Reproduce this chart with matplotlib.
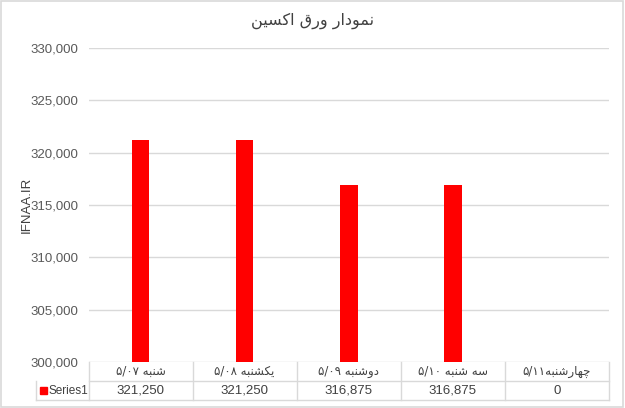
import re
import matplotlib
matplotlib.use("Agg")
import matplotlib.pyplot as plt
import matplotlib.transforms as mtransforms
from matplotlib.patches import Rectangle

# chart data
title = "نمودار ورق اکسین"
categories = ["شنبه ۵/۰۷", "یکشنبه ۵/۰۸", "دوشنبه ۵/۰۹", "سه شنبه ۵/۱۰", "چهارشنبه۵/۱۱"]
values = [321250, 321250, 316875, 316875, 0]
series_name = "Series1"
y_ticks = [300000, 305000, 310000, 315000, 320000, 325000, 330000]
y_label = "IFNAA.IR"

# presentation forms: isolated, final, initial, medial
FORMS = {
    'ا': ('\uFE8D', '\uFE8E', None, None),
    'ب': ('\uFE8F', '\uFE90', '\uFE91', '\uFE92'),
    'د': ('\uFEA9', '\uFEAA', None, None),
    'ر': ('\uFEAD', '\uFEAE', None, None),
    'س': ('\uFEB1', '\uFEB2', '\uFEB3', '\uFEB4'),
    'ش': ('\uFEB5', '\uFEB6', '\uFEB7', '\uFEB8'),
    'ق': ('\uFED5', '\uFED6', '\uFED7', '\uFED8'),
    'م': ('\uFEE1', '\uFEE2', '\uFEE3', '\uFEE4'),
    'ن': ('\uFEE5', '\uFEE6', '\uFEE7', '\uFEE8'),
    'ه': ('\uFEE9', '\uFEEA', '\uFEEB', '\uFEEC'),
    'و': ('\uFEED', '\uFEEE', None, None),
    'ک': ('\uFB8E', '\uFB8F', '\uFB90', '\uFB91'),
    'ی': ('\uFBFC', '\uFBFD', '\uFBFE', '\uFBFF'),
    'چ': ('\uFB7A', '\uFB7B', '\uFB7C', '\uFB7D'),
}


def shape(word):
    out = []
    for i, ch in enumerate(word):
        if ch not in FORMS:
            out.append(ch)
            continue
        prev = word[i - 1] if i > 0 else None
        nxt = word[i + 1] if i + 1 < len(word) else None
        join_prev = prev in FORMS and FORMS[prev][2] is not None
        join_next = FORMS[ch][2] is not None and nxt in FORMS
        iso, fin, ini, med = FORMS[ch]
        if join_prev and join_next:
            out.append(med)
        elif join_prev:
            out.append(fin)
        elif join_next:
            out.append(ini)
        else:
            out.append(iso)
    return "".join(out)


def rtl(text):
    # right-to-left paragraph, number runs kept left-to-right
    vis = shape(text)[::-1]
    return re.sub("[۰-۹0-9/]+", lambda m: m.group(0)[::-1], vis)


plt.rcParams['font.family'] = ['Liberation Sans Narrow', 'Liberation Sans', 'DejaVu Sans']

fig = plt.figure(figsize=(6.25, 4.08), dpi=100)
fig.patches.append(Rectangle((0.002, 0.003), 0.995, 0.994, transform=fig.transFigure,
                             fill=False, edgecolor='#d9d9d9', linewidth=1.2))

ax = fig.add_axes([0.1416, 0.1127, 0.8328, 0.7696])
x = list(range(len(categories)))
ax.bar(x, values, width=0.17, color='#ff0000', zorder=3)
ax.set_xlim(-0.5, len(categories) - 0.5)
ax.set_ylim(y_ticks[0], y_ticks[-1])
ax.set_yticks(y_ticks)
ax.set_yticklabels([f"{v:,}" for v in y_ticks], fontsize=9.5, color='#595959')
ax.tick_params(axis='y', length=0, pad=7.5)
ax.set_xticks([])
ax.grid(axis='y', color='#d9d9d9', linewidth=1)
for s in ax.spines.values():
    s.set_visible(False)
ax.set_ylabel(y_label, fontsize=9.5, color='#404040')
ax.yaxis.set_label_coords(-0.108, 0.5)

fig.text(0.5, 0.948, rtl(title), ha='center', va='center', fontsize=11.5,
         color='#404040', family=['DejaVu Sans'])

# data table under the axis
row_h = 19 / 314.0
trans = mtransforms.blended_transform_factory(ax.transData, ax.transAxes)
line_kw = dict(color='#d9d9d9', linewidth=1, clip_on=False)
left_x = -0.5 - 52.5 / 104.2
ax.plot([-0.5, len(categories) - 0.5], [-row_h, -row_h], transform=trans, **line_kw)
ax.plot([left_x, len(categories) - 0.5], [-2 * row_h, -2 * row_h], transform=trans, **line_kw)
ax.plot([left_x, left_x], [-row_h, -2 * row_h], transform=trans, **line_kw)
for i in range(len(categories) + 1):
    ax.plot([i - 0.5, i - 0.5], [0, -2 * row_h], transform=trans, **line_kw)

for i, (c, v) in enumerate(zip(categories, values)):
    ax.text(i, -0.5 * row_h, rtl(c), transform=trans, ha='center', va='center',
            fontsize=8.5, color='#404040', family=['DejaVu Sans'])
    ax.text(i, -1.5 * row_h, f"{v:,}", transform=trans, ha='center', va='center',
            fontsize=9.5, color='#404040')

ax.add_patch(Rectangle((left_x + 0.04, -1.5 * row_h - 0.01), 0.062, 0.021, transform=trans,
                       color='#ff0000', clip_on=False))
ax.text(left_x + 0.115, -1.5 * row_h, series_name, transform=trans, ha='left', va='center',
        fontsize=8.5, color='#404040')

fig.savefig("out.png", dpi=100)
